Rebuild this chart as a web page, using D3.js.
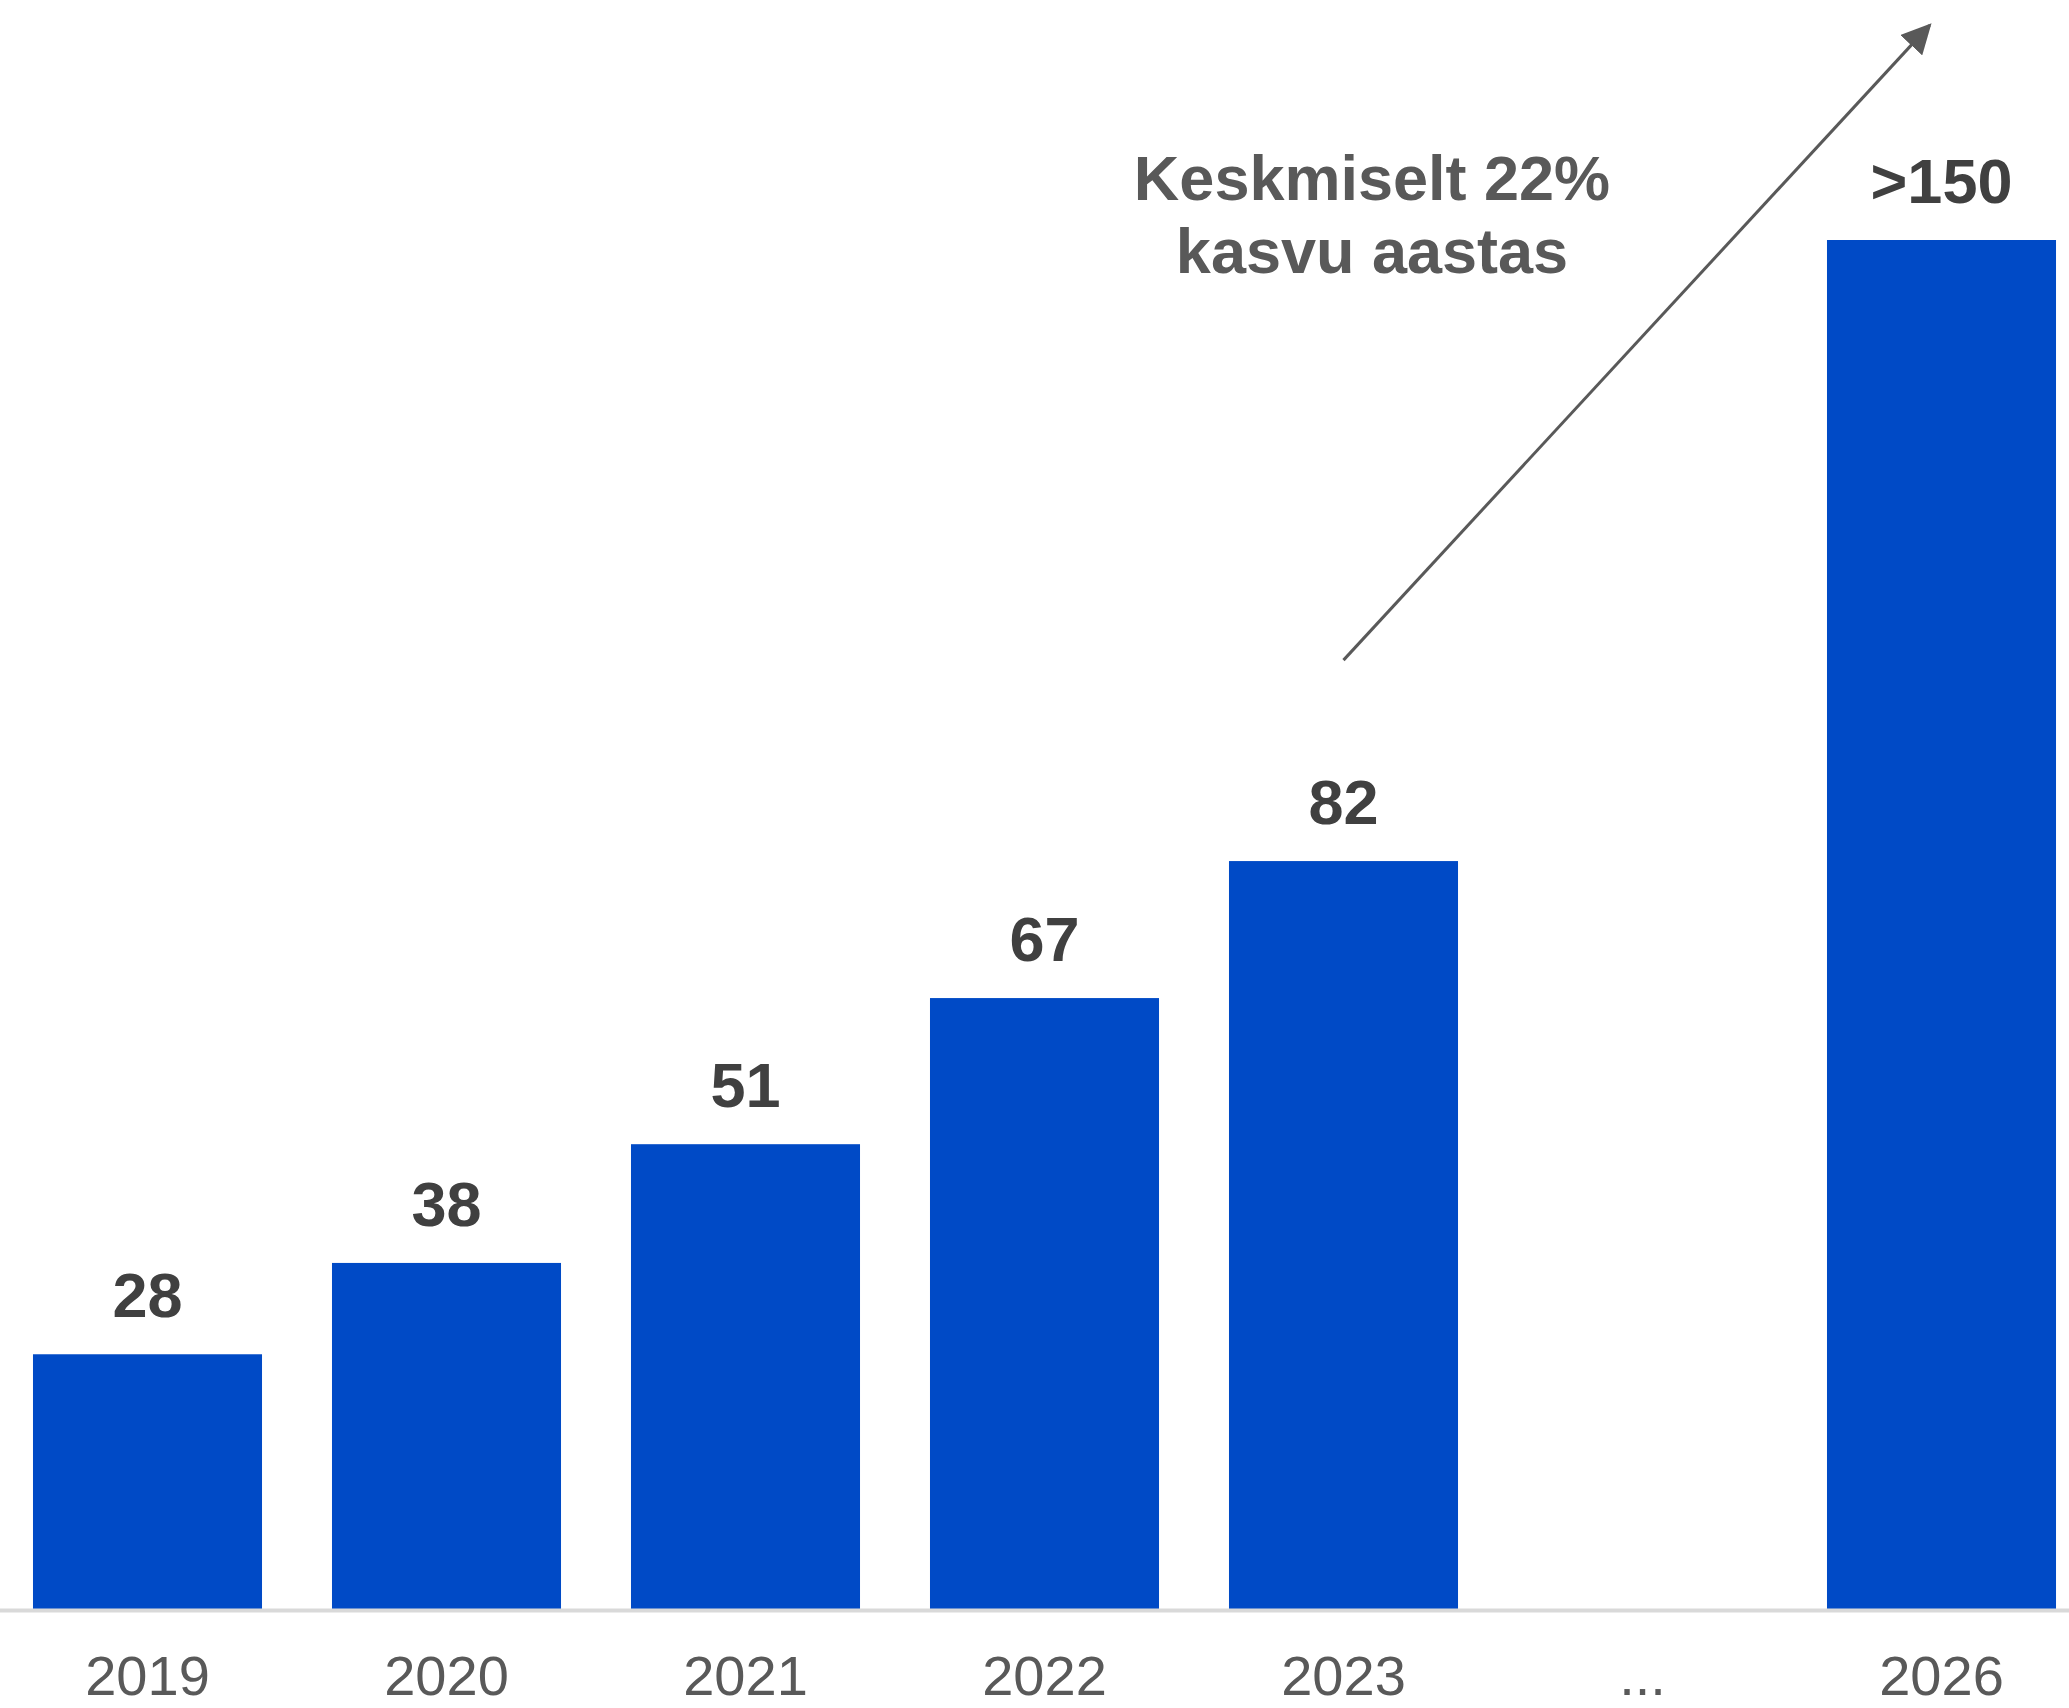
<!DOCTYPE html>
<meta charset="utf-8" />
<style>
  body { margin: 0; background: #fff; }
  text { font-family: "Liberation Sans", Arial, sans-serif; }
  .value { font-weight: bold; font-size: 63px; fill: #404040; }
  .year { font-size: 56px; fill: #595959; }
  .note { font-weight: bold; font-size: 63px; fill: #595959; }
</style>
<svg width="2069" height="1708"></svg>
<script src="https://d3js.org/d3.v7.min.js"></script>
<script>
  var categories = ["2019", "2020", "2021", "2022", "2023", "...", "2026"];
  var values = [28, 38, 51, 67, 82, null, 150];
  var valueLabels = ["28", "38", "51", "67", "82", "", ">150"];
  var noteLines = ["Keskmiselt 22%", "kasvu aastas"];
  // growth arrow, from / to in data units
  var arrowFrom = { cat: "2023", value: 104 };
  var arrowTo = { cat: "2026", value: 173.5 };

  var svg = d3.select("svg"),
    width = +svg.attr("width"),
    height = +svg.attr("height");

  var x = d3.scaleBand()
    .domain(categories)
    .range([-2, 2091])
    .paddingInner(0.234)
    .paddingOuter(0.117);

  var y = d3.scaleLinear().domain([0, 150]).range([1610, 240]);

  var data = categories.map((c, i) => ({ cat: c, value: values[i], label: valueLabels[i] }));
  var bars = data.filter(d => d.value != null);

  svg.append("g")
    .selectAll("rect")
    .data(bars)
    .join("rect")
    .attr("x", d => x(d.cat))
    .attr("width", x.bandwidth())
    .attr("y", d => y(d.value))
    .attr("height", d => y(0) - y(d.value) + 2)
    .attr("fill", "#004ac6");

  // baseline
  svg.append("line")
    .attr("x1", 0)
    .attr("x2", width)
    .attr("y1", y(0) + 0.5)
    .attr("y2", y(0) + 0.5)
    .attr("stroke", "#d9d9d9")
    .attr("stroke-width", 4);

  svg.append("g")
    .selectAll("text")
    .data(bars)
    .join("text")
    .attr("class", "value")
    .attr("text-anchor", "middle")
    .attr("x", d => x(d.cat) + x.bandwidth() / 2)
    .attr("y", d => y(d.value) - 37)
    .text(d => d.label);

  // category axis
  var axis = svg.append("g")
    .attr("transform", "translate(0," + y(0) + ")")
    .call(d3.axisBottom(x).tickSize(0));
  axis.select(".domain").remove();
  axis.selectAll("text")
    .attr("class", "year")
    .attr("font-family", null)
    .attr("font-size", null)
    .attr("fill", null)
    .attr("y", 85)
    .attr("dy", 0);

  // annotation
  var note = svg.append("text")
    .attr("class", "note")
    .attr("text-anchor", "middle")
    .attr("x", 1372)
    .attr("y", 200);
  note.selectAll("tspan")
    .data(noteLines)
    .join("tspan")
    .attr("x", 1372)
    .attr("dy", (d, i) => i ? 73 : 0)
    .text(d => d);

  svg.append("defs").append("marker")
    .attr("id", "head")
    .attr("viewBox", "0 0 10 10")
    .attr("refX", 9)
    .attr("refY", 5)
    .attr("markerWidth", 10)
    .attr("markerHeight", 10)
    .attr("markerUnits", "strokeWidth")
    .attr("orient", "auto")
    .append("path")
    .attr("d", "M0,0L10,5L0,10Z")
    .attr("fill", "#595959");

  svg.append("line")
    .attr("x1", x(arrowFrom.cat) + x.bandwidth() / 2)
    .attr("y1", y(arrowFrom.value))
    .attr("x2", x(arrowTo.cat) + x.bandwidth() / 2 - 12)
    .attr("y2", y(arrowTo.value))
    .attr("stroke", "#595959")
    .attr("stroke-width", 3)
    .attr("marker-end", "url(#head)");
</script>
